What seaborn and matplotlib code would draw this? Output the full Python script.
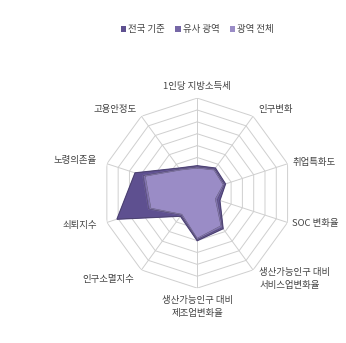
import numpy as np
import matplotlib
matplotlib.use("Agg")
import matplotlib.pyplot as plt
from matplotlib.patches import Patch
import seaborn as sns

categories = ["1인당 지방소득세", "인구변화", "취업특화도", "SOC 변화율",
              "생산가능인구 대비\n서비스업변화율", "생산가능인구 대비\n제조업변화율",
              "인구소멸지수", "쇠퇴지수", "노령의존율", "고용안정도"]
series_names = ["전국 기준", "유사 광역", "광역 전체"]
nation = [2.3, 2.6, 2.5, 2.0, 3.7, 4.0, 2.4, 7.1, 5.5, 2.6]
similar = [2.2, 2.5, 2.4, 1.8, 3.6, 3.9, 2.3, 4.3, 4.8, 2.5]
whole = [2.1, 2.4, 2.3, 1.6, 3.4, 3.8, 2.2, 4.1, 4.6, 2.4]
levels = [1, 2, 3, 4, 5, 6, 7, 8]

sns.set_theme(style="white")
plt.rcParams['font.family'] = ['Noto Sans CJK KR', 'DejaVu Sans']

colors = ["#5e5090", "#7667a6", "#9a8cc6"]
fig = plt.figure(figsize=(3.46, 3.43), dpi=100)
fig.patch.set_facecolor("white")
ax = fig.add_axes([0.295, 0.160, 0.550, 0.554], projection="polar")
ax.set_theta_offset(np.pi / 2)
ax.set_theta_direction(-1)
n = len(categories)
angles = np.linspace(0, 2 * np.pi, n, endpoint=False)
closed = np.concatenate([angles, angles[:1]])

# polygon grid
for lv in levels:
    ax.plot(closed, [lv] * (n + 1), color="#cfcfcf", lw=0.7, zorder=1)
for a in angles:
    ax.plot([a, a], [0, levels[-1]], color="#cfcfcf", lw=0.7, zorder=1)

for vals, col, name in zip([nation, similar, whole], colors, series_names):
    v = np.concatenate([vals, vals[:1]])
    ax.fill(closed, v, color=col, alpha=1.0, zorder=2, label=name)
    ax.plot(closed, v, color=sns.dark_palette(col, 3)[1], lw=0.4, zorder=3)

ax.set_ylim(0, 8)
ax.set_xticks([])
ax.set_yticks([])
ax.grid(False)
ax.spines["polar"].set_visible(False)
ax.set_facecolor("white")

label_pos = [
    (0, 9.0, "center", "center"),
    (1, 8.7, "left", "center"),
    (2, 8.4, "left", "center"),
    (3, 8.4, "left", "center"),
    (4, 8.9, "left", "center"),
    (5, 9.6, "center", "center"),
    (6, 9.0, "right", "center"),
    (7, 8.9, "right", "center"),
    (8, 8.9, "right", "center"),
    (9, 8.7, "right", "center"),
]
for i, r, ha, va in label_pos:
    ax.text(angles[i], r, categories[i], ha=ha, va=va, fontsize=6.8,
            color="#444444", linespacing=1.6, clip_on=False)

handles = [Patch(facecolor=c, edgecolor="none") for c in colors]
fig.legend(handles, series_names, loc="center", bbox_to_anchor=(0.57, 0.913),
           ncol=3, frameon=False, fontsize=6.8, handlelength=0.6, handleheight=0.6,
           handletextpad=0.2, columnspacing=1.1, labelcolor="#444444")

fig.savefig("out.png", dpi=100, facecolor="white")
